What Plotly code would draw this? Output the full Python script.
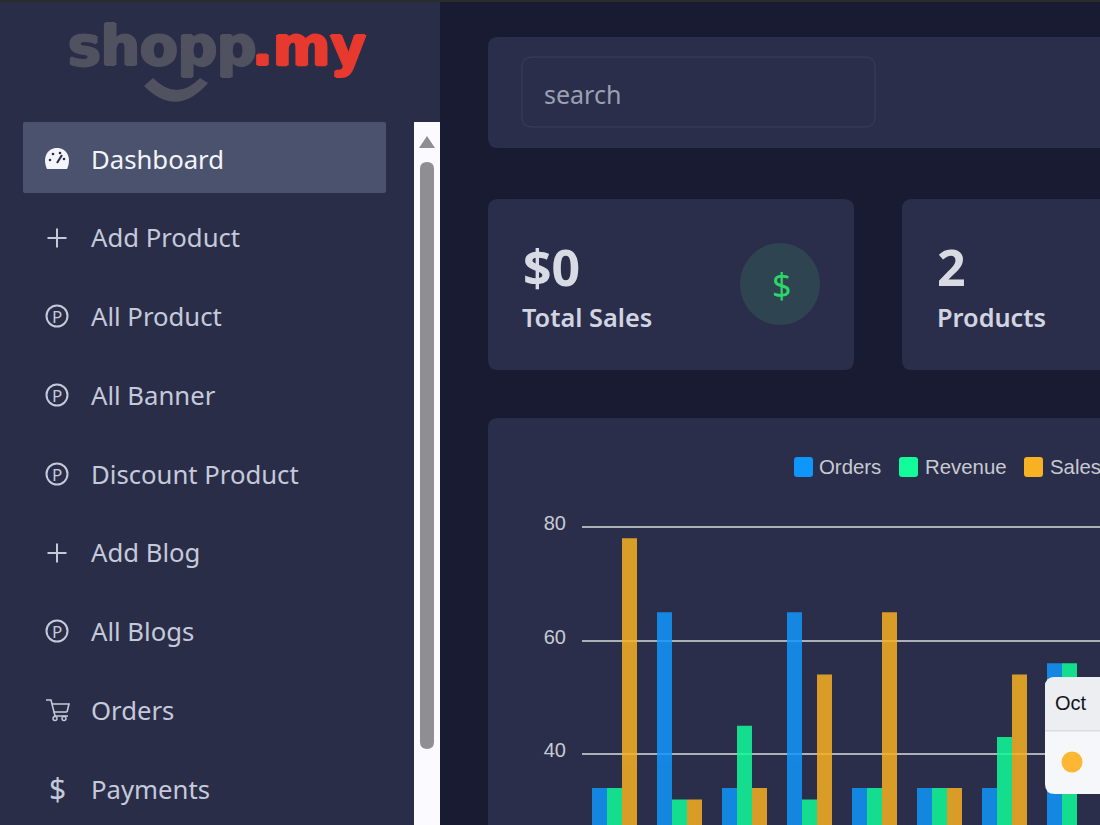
import plotly.graph_objects as go

# chart values
months = ['Jan', 'Feb', 'Mar', 'Apr', 'May', 'Jun', 'Jul', 'Aug']
orders = [34, 65, 34, 65, 34, 34, 34, 56]
revenue = [34, 32, 45, 32, 34, 34, 43, 56]
sales = [78, 32, 34, 54, 65, 34, 54, 20]

menu_labels = ['Dashboard', 'Add Product', 'All Product', 'All Banner', 'Discount Product',
               'Add Blog', 'All Blogs', 'Orders', 'Payments']
menu_icons = ['gauge', 'plus', 'p', 'p', 'p', 'plus', 'p', 'cart', 'dollar']
menu_rows = [160, 238, 317, 396, 475, 553, 632, 711, 790]

W, H = 1100, 825
UI_FONT = 'Noto Sans'
CHART_FONT = 'Liberation Sans'
LOGO_FONT = 'DejaVu Sans'
BG = '#191b33'
PANEL = '#2b2e4a'
SIDE = '#2a2d47'
MENU_TEXT = '#c5cadb'
LOGO_GREY = '#50525f'
LOGO_RED = '#e8392f'
ORDERS_COLOR = '#0f96fb'
REVENUE_COLOR = '#12fc9a'
SALES_COLOR = '#f8b122'


def px(x):
    return x / W


def py(y):
    return 1 - y / H


def rect_path(x0, y0, x1, y1, r):
    pts = [
        f'M{px(x0 + r)},{py(y0)}', f'L{px(x1 - r)},{py(y0)}', f'Q{px(x1)},{py(y0)} {px(x1)},{py(y0 + r)}',
        f'L{px(x1)},{py(y1 - r)}', f'Q{px(x1)},{py(y1)} {px(x1 - r)},{py(y1)}',
        f'L{px(x0 + r)},{py(y1)}', f'Q{px(x0)},{py(y1)} {px(x0)},{py(y1 - r)}',
        f'L{px(x0)},{py(y0 + r)}', f'Q{px(x0)},{py(y0)} {px(x0 + r)},{py(y0)}', 'Z',
    ]
    return ' '.join(pts)


def box(x0, y0, x1, y1, color, r=0, line=None, layer='below', width=1):
    return dict(type='path', path=rect_path(x0, y0, x1, y1, r), xref='paper', yref='paper',
                fillcolor=color, line=dict(color=line or 'rgba(0,0,0,0)', width=width if line else 0),
                layer=layer)


def circle(cx, cy, rx, ry, color, line=None, width=2, layer='below'):
    return dict(type='circle', xref='paper', yref='paper', x0=px(cx - rx), x1=px(cx + rx),
                y0=py(cy + ry), y1=py(cy - ry), fillcolor=color,
                line=dict(color=line or 'rgba(0,0,0,0)', width=width if line else 0), layer=layer)


def seg(points, color, width=2, layer='below'):
    d = 'M' + ' L'.join(f'{px(x)},{py(y)}' for x, y in points)
    return dict(type='path', path=d, xref='paper', yref='paper',
                line=dict(color=color, width=width), layer=layer)


def label(x, y, text, size, color, family=UI_FONT, anchor='left', weight=None, shadow=None):
    font = dict(family=family, size=size, color=color)
    if weight:
        font['weight'] = weight
    if shadow:
        font['shadow'] = shadow
    return dict(x=px(x), y=py(y), xref='paper', yref='paper', text=text, showarrow=False,
                xanchor=anchor, yanchor='middle', font=font, borderpad=0, borderwidth=0)


def thick(color):
    # fakes a heavier cut than the installed fonts have
    return f'1.5px 0 0 {color}, -1.5px 0 0 {color}, 0 1px 0 {color}, 0 -1px 0 {color}'


# logo smile, filled crescent
smile = (f'M{px(153)},{py(78)} Q{px(177)},{py(102)} {px(200)},{py(78)} L{px(208)},{py(83)} '
         f'Q{px(177)},{py(119)} {px(144)},{py(86)} Z')

shapes = [
    box(0, 0, W, 2, '#2b2b2b'),
    box(0, 2, 440, H, SIDE),
    box(23, 122, 386, 193, '#4a526e', r=2),
    box(414, 122, 440, H, '#fbfbff'),
    box(420, 162, 434, 749, '#8e8e93', r=7),
    dict(type='path', path=f'M{px(427)},{py(136)} L{px(435)},{py(148)} L{px(419)},{py(148)} Z',
         xref='paper', yref='paper', fillcolor='#8e8e93', line=dict(width=0), layer='below'),
    box(488, 37, W + 20, 148, PANEL, r=10),
    box(522, 57, 875, 127, PANEL, r=10, line='#3a3e5e'),
    box(488, 199, 854, 370, PANEL, r=10),
    box(902, 199, W + 20, 370, PANEL, r=10),
    box(488, 418, W + 20, H + 20, PANEL, r=10),
    circle(780, 284, 40, 41, '#2e4450'),
    dict(type='path', path=smile, xref='paper', yref='paper', fillcolor=LOGO_GREY, line=dict(width=0), layer='below'),
    # legend swatches
    box(794, 457, 813, 477, ORDERS_COLOR, r=3),
    box(899, 457, 918, 477, REVENUE_COLOR, r=3),
    box(1024, 457, 1043, 477, SALES_COLOR, r=3),
    # tooltip
    box(1045, 677, W + 20, 794, '#f6f7fb', r=10, layer='above'),
    box(1045, 677, W + 20, 730, '#eceef2', r=10, layer='above'),
    box(1045, 715, W + 20, 730, '#eceef2', layer='above'),
    box(1045, 730, W + 20, 731.5, '#dcdde2', layer='above'),
    circle(1072, 762, 10.5, 10.5, '#fdb733', layer='above'),
]

annotations = [
    label(68, 46, 'shopp', 55, LOGO_GREY, family=LOGO_FONT, weight=700, shadow=thick(LOGO_GREY)),
    label(252, 46, '.my', 55, LOGO_RED, family=LOGO_FONT, weight=700, shadow=thick(LOGO_RED)),
    label(544, 94, 'search', 25, '#9ba1b2'),
    label(523, 267, '$0', 50, '#d9dbe4', weight=700),
    label(522, 317, 'Total Sales', 25.3, '#d2d5e1', weight=600),
    label(937, 267, '2', 50, '#d9dbe4', weight=700),
    label(937, 317, 'Products', 25.3, '#d2d5e1', weight=600),
    label(781, 285, '$', 34, '#2fd46a', anchor='center'),
    label(819, 467, 'Orders', 20.4, '#c8cad2', family=CHART_FONT),
    label(925, 467, 'Revenue', 20.4, '#c8cad2', family=CHART_FONT),
    label(1050, 467, 'Sales', 20.4, '#c8cad2', family=CHART_FONT),
    label(1055, 703, 'Oct', 20, '#15151a', family=CHART_FONT),
]

for name, icon, row in zip(menu_labels, menu_icons, menu_rows):
    active = name == 'Dashboard'
    annotations.append(label(91, row - 0.5, name, 25.7, '#f4f5fa' if active else MENU_TEXT))
    if icon == 'plus':
        shapes.append(seg([(47.5, row), (66.5, row)], MENU_TEXT))
        shapes.append(seg([(57, row - 9.5), (57, row + 9.5)], MENU_TEXT))
    elif icon == 'p':
        shapes.append(circle(57, row - 1, 10.5, 10.5, 'rgba(0,0,0,0)', line=MENU_TEXT))
        annotations.append(label(57, row - 1, 'P', 17, MENU_TEXT, anchor='center'))
    elif icon == 'dollar':
        annotations.append(label(57, row - 2, '$', 30, MENU_TEXT, anchor='center'))
    elif icon == 'cart':
        shapes.append(seg([(46, row - 11), (51, row - 11), (54, row + 1), (67, row + 1)], MENU_TEXT, width=1.6))
        shapes.append(seg([(52, row - 7), (69, row - 7), (67, row + 1)], MENU_TEXT, width=1.6))
        shapes.append(seg([(54, row + 1), (55, row + 5), (68, row + 5)], MENU_TEXT, width=1.6))
        shapes.append(circle(55, row + 7.5, 2, 2, 'rgba(0,0,0,0)', line=MENU_TEXT, width=1.4))
        shapes.append(circle(64, row + 7.5, 2, 2, 'rgba(0,0,0,0)', line=MENU_TEXT, width=1.4))
    elif icon == 'gauge':
        shapes.append(dict(type='path', xref='paper', yref='paper', fillcolor='#f4f5fa', line=dict(width=0),
                           layer='below',
                           path=(f'M{px(47)},{py(169)} C{px(42)},{py(158)} {px(47)},{py(148)} {px(57)},{py(148)} '
                                 f'C{px(67)},{py(148)} {px(72)},{py(158)} {px(67)},{py(169)} Z')))
        for dx, dy in [(-7, 160), (-4, 154), (3, 153), (7, 159)]:
            shapes.append(circle(57 + dx, dy, 1.3, 1.3, SIDE))
        shapes.append(seg([(57, 163), (62, 155)], SIDE, width=2))

fig = go.Figure()
for name, values, color in [('Orders', orders, ORDERS_COLOR), ('Revenue', revenue, REVENUE_COLOR), ('Sales', sales, SALES_COLOR)]:
    fig.add_trace(go.Bar(x=months, y=values, name=name, marker=dict(color=color, line=dict(width=0)), opacity=0.85))

# 80 sits at 527 px, 60 at 641 px, 40 at 754 px
y_zero = 981
px_per_unit = 5.675
fig.update_layout(
    width=W, height=H,
    margin=dict(l=0, r=0, t=0, b=0),
    paper_bgcolor=BG,
    plot_bgcolor='rgba(0,0,0,0)',
    barmode='group',
    bargap=20 / 65,
    bargroupgap=0,
    showlegend=False,
    shapes=shapes,
    annotations=annotations,
    xaxis=dict(domain=[582 / W, 1], range=[-0.5, (W - 582) / 65 - 0.5], showgrid=False, zeroline=False,
               showticklabels=False, ticks='', fixedrange=True),
    yaxis=dict(domain=[0, 1 - 500 / H], range=[(y_zero - H) / px_per_unit, (y_zero - 500) / px_per_unit],
               tickvals=[40, 60, 80], showgrid=True, gridcolor='#adb0b6', gridwidth=2, zeroline=False,
               ticks='', ticklabelstandoff=15, ticklabelshift=-4,
               tickfont=dict(family=CHART_FONT, size=20, color='#c8cad2'), fixedrange=True),
)

fig.write_html('out.html', config=dict(displayModeBar=False),
               post_script="document.body.style.margin='0';document.body.style.overflow='hidden';")
